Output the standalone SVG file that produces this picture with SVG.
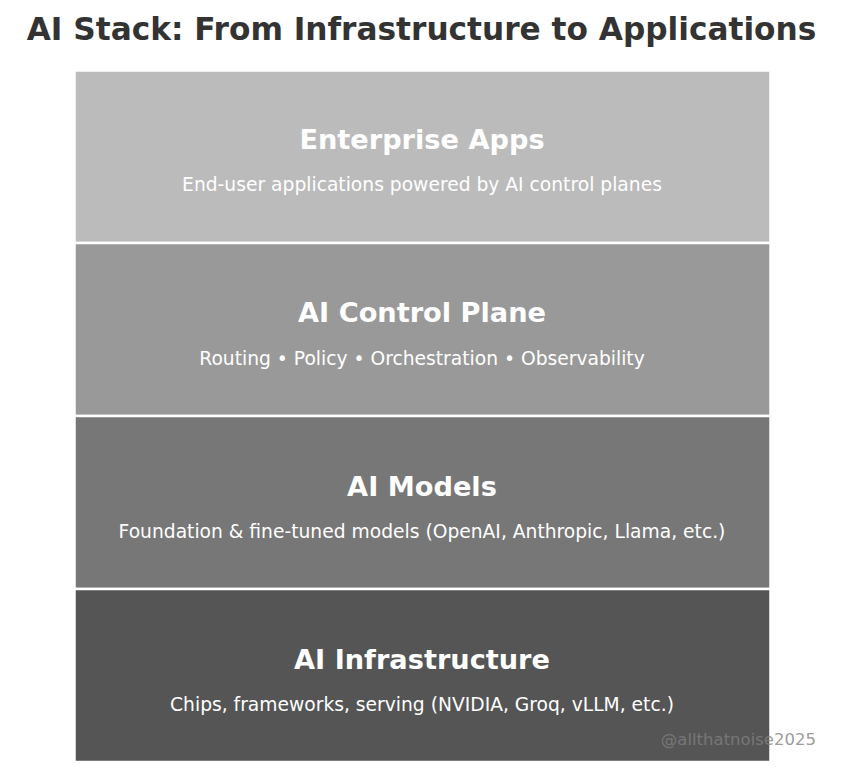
<svg xmlns="http://www.w3.org/2000/svg" width="843" height="777" viewBox="0 0 843 777">
<style>
.layer{stroke:#ffffff;stroke-width:2.5}
.t{font-family:"DejaVu Sans",sans-serif;font-weight:bold;font-size:27.2px;fill:#ffffff;text-anchor:middle}
.s{font-family:"DejaVu Sans",sans-serif;font-size:18.7px;fill:#ffffff;text-anchor:middle}
</style>
<rect width="843" height="777" fill="#ffffff"/>
<text x="421.5" y="40" font-family="DejaVu Sans, sans-serif" font-weight="bold" font-size="31.2" fill="#333333" text-anchor="middle">AI Stack: From Infrastructure to Applications</text>
<g id="enterprise-apps">
<rect class="layer" x="74.5" y="70.5" width="696" height="172.5" fill="#bbbbbb"/>
<text class="t" x="422" y="149">Enterprise Apps</text>
<text class="s" x="422" y="191">End-user applications powered by AI control planes</text>
</g>
<g id="control-plane">
<rect class="layer" x="74.5" y="243" width="696" height="173" fill="#999999"/>
<text class="t" x="422" y="322">AI Control Plane</text>
<text class="s" x="422" y="365">Routing • Policy • Orchestration • Observability</text>
</g>
<g id="models">
<rect class="layer" x="74.5" y="416" width="696" height="173" fill="#777777"/>
<text class="t" x="422" y="496">AI Models</text>
<text class="s" x="422" y="538">Foundation &amp; fine-tuned models (OpenAI, Anthropic, Llama, etc.)</text>
</g>
<g id="infrastructure">
<rect class="layer" x="74.5" y="589" width="696" height="173" fill="#555555"/>
<text class="t" x="422" y="669">AI Infrastructure</text>
<text class="s" x="422" y="711">Chips, frameworks, serving (NVIDIA, Groq, vLLM, etc.)</text>
</g>
<g id="connectors"/>
<text x="816" y="745" font-family="DejaVu Sans, sans-serif" font-size="16.5" fill="#808080" fill-opacity="0.8" text-anchor="end">@allthatnoise2025</text>
</svg>
